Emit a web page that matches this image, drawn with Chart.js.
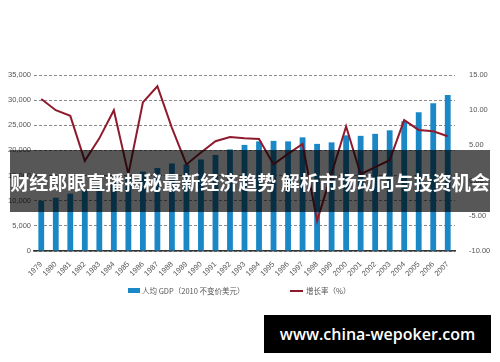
<!DOCTYPE html>
<html>
<head>
<meta charset="utf-8">
<script src="https://cdn.jsdelivr.net/npm/chart.js@4"></script>
<style>
  html, body { margin: 0; padding: 0; background: #fff; }
  #wrap { position: relative; width: 500px; height: 362px; overflow: hidden; }
  #banner {
    position: absolute; left: 10px; top: 150px; width: 480px; height: 62px;
    background: rgba(0, 0, 0, 0.66); color: #fff;
    font: bold 19px "Noto Sans CJK SC", sans-serif;
    display: flex; align-items: center; justify-content: center; white-space: nowrap;
  }
  #mark {
    position: absolute; left: 264px; top: 315px; width: 227px; height: 38px;
    background: #000; color: #fff;
    font: 600 16px "Open Sans", sans-serif;
    display: flex; align-items: center; justify-content: center; white-space: nowrap;
  }
  .legend { position: absolute; top: 283px; font: 7.5px "Noto Sans CJK SC", sans-serif; color: #555; white-space: nowrap; line-height: 14px; }
  .legend span { display: inline-block; vertical-align: middle; }
</style>
</head>
<body>
<div id="wrap">
  <canvas id="chart" width="500" height="362"></canvas>
  <div class="legend" id="leg0" style="left:128px"></div>
  <div class="legend" id="leg1" style="left:290px"></div>
  <div id="banner">财经郎眼直播揭秘最新经济趋势 解析市场动向与投资机会</div>
  <div id="mark">www.china-wepoker.com</div>
</div>
<script>
// data
const years = ['1979', '1980', '1981', '1982', '1983', '1984', '1985', '1986', '1987', '1988',
  '1989', '1990', '1991', '1992', '1993', '1994', '1995', '1996', '1997', '1998',
  '1999', '2000', '2001', '2002', '2003', '2004', '2005', '2006', '2007'];
const gdpPerCapita = [10000, 10600, 11400, 12100, 12900, 13800, 14800, 15800, 16500, 17400,
  17200, 18200, 19100, 20200, 21100, 21800, 21900, 21800, 22600, 21300,
  21600, 23000, 22900, 23300, 24000, 25800, 27600, 29400, 31000];
const growthRate = [11.6, 10.0, 9.2, 2.8, 6.0, 10.0, 0.9, 11.1, 13.4, 7.5,
  2.3, 4.0, 5.6, 6.2, 6.0, 5.9, 2.3, 3.8, 5.2, -5.7,
  1.0, 7.7, 0.9, 1.9, 2.9, 8.6, 7.2, 7.0, 6.3];
const gdpLabel = '人均 GDP（2010 不变价美元）';
const growthLabel = '增长率（%）';

const barColor = '#1a87c6';
const lineColor = '#8e1b2d';
const tickFont = { family: '"Liberation Sans", Arial, sans-serif', size: 7.5 };

// legend (html)
document.getElementById('leg0').innerHTML =
  '<span style="width:12px;height:5px;background:' + barColor + ';margin-right:2px"></span><span>' + gdpLabel + '</span>';
document.getElementById('leg1').innerHTML =
  '<span style="width:13px;height:2px;background:' + lineColor + ';margin-right:3px"></span><span>' + growthLabel + '</span>';

const ctx = document.getElementById('chart');

new Chart(ctx, {
  data: {
    labels: years,
    datasets: [
      {
        type: 'bar',
        label: gdpLabel,
        data: gdpPerCapita,
        backgroundColor: barColor,
        barPercentage: 0.4,
        categoryPercentage: 1,
        yAxisID: 'y',
        order: 2,
      },
      {
        type: 'line',
        label: growthLabel,
        data: growthRate,
        borderColor: lineColor,
        borderWidth: 2,
        pointRadius: 0,
        tension: 0,
        fill: false,
        yAxisID: 'y1',
        order: 1,
      },
    ],
  },
  options: {
    responsive: false,
    animation: false,
    layout: {
      padding: { top: 75, left: 0, right: 0, bottom: 0 },
    },
    plugins: {
      legend: { display: false },
      tooltip: { enabled: false },
    },
    scales: {
      x: {
        grid: { display: false },
        border: { display: true, color: '#333', width: 1.5 },
        ticks: {
          color: '#555',
          font: tickFont,
          minRotation: 45,
          maxRotation: 45,
          autoSkip: false,
          padding: 1,
        },
        afterFit: (scale) => { scale.height = 111; },
      },
      y: {
        position: 'left',
        min: 0,
        max: 35000,
        grid: { color: '#8a8a8a', lineWidth: 1, drawTicks: false },
        border: { display: false, dash: [3, 2] },
        ticks: {
          stepSize: 5000,
          color: '#555',
          font: tickFont,
          padding: 3,
        },
        afterFit: (scale) => { scale.width = 34; },
      },
      y1: {
        position: 'right',
        min: -10,
        max: 15,
        grid: { display: false },
        border: { display: false },
        ticks: {
          stepSize: 5,
          color: '#555',
          font: tickFont,
          padding: 6,
          callback: (v) => v.toFixed(2),
        },
        afterFit: (scale) => { scale.width = 45; },
      },
    },
  },
});
</script>
</body>
</html>
